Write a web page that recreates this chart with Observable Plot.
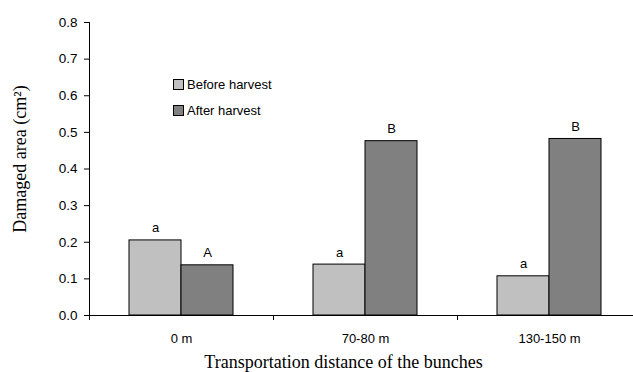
<!DOCTYPE html>
<html>
<head>
<meta charset="utf-8">
<script src="https://cdn.jsdelivr.net/npm/d3@7"></script>
<script src="https://cdn.jsdelivr.net/npm/@observablehq/plot@0.6"></script>
<style>
  html, body { margin: 0; padding: 0; background: #fff; overflow: hidden; }
  #wrap { position: relative; width: 633px; height: 372px; }
  #legend { position: absolute; left: 173px; top: 78px; font-family: Arial, "Liberation Sans", sans-serif; font-size: 13px; color: #000; }
  #legend .item { display: flex; align-items: center; height: 13px; margin-bottom: 13px; white-space: nowrap; }
  #legend .sw { width: 9px; height: 9px; border: 1px solid #000; margin-right: 3px; }
</style>
</head>
<body>
<div id="wrap"><div id="legend"></div></div>
<script>
const categories = ["0 m", "70-80 m", "130-150 m"];
const series = ["Before harvest", "After harvest"];
const beforeValues = [0.205, 0.139, 0.107];
const afterValues = [0.137, 0.476, 0.482];
const beforeLetters = ["a", "a", "a"];
const afterLetters = ["A", "B", "B"];
const seriesColors = ["#c0c0c0", "#808080"];
const yTicks = [0, 0.1, 0.2, 0.3, 0.4, 0.5, 0.6, 0.7, 0.8];
const yTitle = "Damaged area (cm²)";
const xTitle = "Transportation distance of the bunches";

const rows = [];
categories.forEach((c, i) => {
  rows.push({category: c, series: series[0], value: beforeValues[i], letter: beforeLetters[i]});
  rows.push({category: c, series: series[1], value: afterValues[i], letter: afterLetters[i]});
});

const W = 633, H = 372;
const plotLeft = 89, plotRight = 641, plotTop = 22, plotBottom = 315;
const band = (plotRight - plotLeft) / categories.length;

const chart = Plot.plot({
  width: W,
  height: H,
  marginLeft: plotLeft,
  marginRight: 0,
  marginTop: plotTop,
  marginBottom: H - plotBottom,
  style: {fontFamily: "Arial, 'Liberation Sans', sans-serif", fontSize: "13px", color: "#000", background: "#fff"},
  fx: {domain: categories, range: [plotLeft, plotRight], paddingInner: 0, paddingOuter: 0},
  x: {domain: series, paddingInner: 0, paddingOuter: 0.742, axis: null},
  y: {domain: [0, 0.8], range: [plotBottom, plotTop]},
  color: {domain: series, range: seriesColors},
  marks: [
    Plot.barY(rows, {fx: "category", x: "series", y: "value", fill: "series", stroke: "#000", strokeWidth: 1}),
    Plot.text(rows, {fx: "category", x: "series", y: "value", text: "letter", dy: -8, lineAnchor: "bottom", fontSize: 13, fill: "#000"}),
    Plot.ruleY([0], {stroke: "#000"}),
    Plot.frame({anchor: "left", facet: "super", stroke: "#000"}),
    Plot.axisY({ticks: yTicks, tickFormat: d3.format(".1f"), tickSize: 5, tickPadding: 7, label: null, fontSize: 13.5}),
    Plot.axisFx({anchor: "bottom", tickSize: 0, tickPadding: 18, label: null, fontSize: 13}),
    Plot.axisFx({anchor: "bottom", tickSize: 5, text: null, label: null, dx: -band / 2}),
    Plot.text([yTitle], {facet: "super", frameAnchor: "left", textAnchor: "middle", lineAnchor: "middle", rotate: -90, dx: -69, dy: -10, fontFamily: "'Liberation Serif', 'Times New Roman', serif", fontSize: 18, fill: "#000"}),
    Plot.text([xTitle], {facet: "super", frameAnchor: "bottom", textAnchor: "middle", lineAnchor: "bottom", dx: -22, dy: 52, fontFamily: "'Liberation Serif', 'Times New Roman', serif", fontSize: 18, fill: "#000"})
  ]
});
document.getElementById("wrap").insertBefore(chart, document.getElementById("legend"));

const legend = document.getElementById("legend");
series.forEach((s, i) => {
  const item = document.createElement("div");
  item.className = "item";
  const sw = document.createElement("div");
  sw.className = "sw";
  sw.style.background = seriesColors[i];
  const label = document.createElement("span");
  label.textContent = s;
  item.appendChild(sw);
  item.appendChild(label);
  legend.appendChild(item);
});
</script>
</body>
</html>
